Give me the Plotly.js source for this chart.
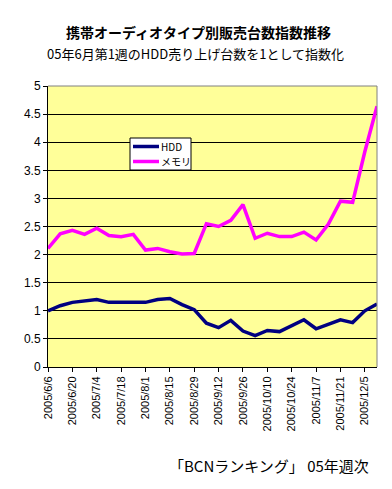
<!DOCTYPE html>
<html><head><meta charset="utf-8">
<script src="https://cdn.plot.ly/plotly-3.0.1.min.js"></script>
<style>html,body{margin:0;padding:0;background:#fff}#c{width:392px;height:489px}</style>
</head><body><div id="c"></div>
<script>
const weeks = ["2005/6/6","2005/6/13","2005/6/20","2005/6/27","2005/7/4","2005/7/11","2005/7/18","2005/7/25",
  "2005/8/1","2005/8/8","2005/8/15","2005/8/22","2005/8/29","2005/9/5","2005/9/12","2005/9/19","2005/9/26",
  "2005/10/3","2005/10/10","2005/10/17","2005/10/24","2005/10/31","2005/11/7","2005/11/14","2005/11/21",
  "2005/11/28","2005/12/5","2005/12/12"];
const hdd = [1.00,1.09,1.15,1.18,1.20,1.15,1.15,1.15,1.15,1.20,1.22,1.11,1.02,0.78,0.70,0.83,0.64,0.56,
  0.65,0.63,0.74,0.84,0.68,0.76,0.84,0.79,1.00,1.12];
const memory = [2.11,2.37,2.43,2.36,2.47,2.34,2.32,2.36,2.08,2.11,2.05,2.01,2.02,2.55,2.50,2.61,2.89,2.29,
  2.38,2.32,2.32,2.40,2.26,2.54,2.95,2.93,3.83,4.64];
const seriesNames = ["HDD","メモリ"];
const seriesColors = ['#000080','#FF00FF'];
const tickLabels = weeks.filter((w,i)=>i%2===0);
const jp = '"Noto Sans CJK JP", sans-serif';
const lat = '"Liberation Sans", Arial, sans-serif';

// pixel helpers for paper coordinates of the plot area (l=48..377, t=86..367)
const PX = x => (x-48)/329, PY = y => (367-y)/281;

const traces = [
  {x: weeks, y: hdd, name: seriesNames[0], type:'scatter', mode:'lines', line:{color:seriesColors[0], width:3.5}},
  {x: weeks, y: memory, name: seriesNames[1], type:'scatter', mode:'lines', line:{color:seriesColors[1], width:3.5}}
];
const legendRows = [146.5, 161.5];
const shapes = [
  {type:'line', xref:'paper', yref:'paper', x0:0, x1:1, y0:1, y1:1, line:{color:'#808080', width:1}},
  {type:'line', xref:'paper', yref:'paper', x0:1, x1:1, y0:0, y1:1, line:{color:'#808080', width:1}},
  {type:'rect', xref:'paper', yref:'paper', x0:PX(130), x1:PX(191), y0:PY(170), y1:PY(138),
    fillcolor:'#fff', line:{color:'#000', width:1}, layer:'above'}
];
const annotations = [
  {text:'<b>携帯オーディオタイプ別販売台数指数推移</b>', xref:'paper', yref:'paper', x:PX(198), y:PY(32),
    xanchor:'center', yanchor:'middle', showarrow:false, borderpad:0, font:{family:jp, size:14, color:'#000'}},
  {text:'05年6月第1週のHDD売り上げ台数を1として指数化', xref:'paper', yref:'paper', x:PX(195), y:PY(53),
    xanchor:'center', yanchor:'middle', showarrow:false, borderpad:0, font:{family:jp, size:13, color:'#000'}},
  {text:'「BCNランキング」 05年週次', xref:'paper', yref:'paper', x:PX(371), y:PY(465),
    xanchor:'right', yanchor:'middle', showarrow:false, font:{family:jp, size:15, color:'#000'}}
];
seriesNames.forEach((n,i)=>{
  shapes.push({type:'line', xref:'paper', yref:'paper', x0:PX(133), x1:PX(159), y0:PY(legendRows[i]), y1:PY(legendRows[i]),
    line:{color:seriesColors[i], width:3.5}, layer:'above'});
  annotations.push({text:n, xref:'paper', yref:'paper', x:PX(160), y:PY(legendRows[i]), xanchor:'left', yanchor:'middle',
    showarrow:false, borderpad:0, font:{family:jp, size:10, color:'#000'}});
});
const layout = {
  width:392, height:489,
  margin:{l:48, r:15, t:86, b:122},
  paper_bgcolor:'#fff', plot_bgcolor:'#FFFF99',
  showlegend:false,
  xaxis:{type:'category', range:[0,27], tickmode:'array', tickvals:tickLabels, ticktext:tickLabels,
    tickangle:-90, tickfont:{family:lat, size:11, color:'#000'},
    ticks:'outside', ticklen:4, tickcolor:'#000', showgrid:false, zeroline:false,
    showline:true, linecolor:'#000', linewidth:1, mirror:false},
  yaxis:{range:[0,5], dtick:0.5, tick0:0, tickfont:{family:lat, size:12, color:'#000'},
    ticks:'outside', ticklen:4, tickcolor:'#000', showgrid:true, gridcolor:'#000', gridwidth:1,
    zeroline:false, showline:true, linecolor:'#000', linewidth:1},
  shapes: shapes,
  annotations: annotations
};
Plotly.newPlot('c', traces, layout, {displayModeBar:false, staticPlot:true});
</script></body></html>
